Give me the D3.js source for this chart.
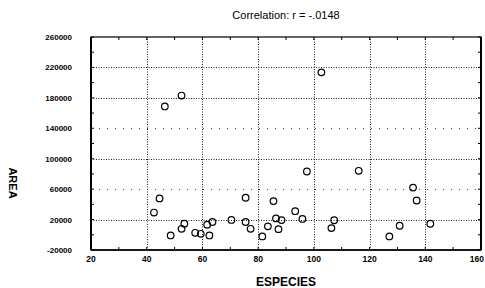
<!DOCTYPE html>
<html>
<head>
<meta charset="utf-8">
<script src="https://cdn.jsdelivr.net/npm/d3@7"></script>
<style>
  html, body { margin: 0; padding: 0; background: #fff; }
  svg { display: block; font-family: Arial, "Liberation Sans", sans-serif; }
</style>
</head>
<body>
<div id="chart"></div>
<script>
// ---------- Data ----------
const especies = [52.5, 46.5, 102.7, 44.6, 42.6, 48.6, 53.5, 52.5, 57.4, 59.4, 62.5, 61.7, 63.6,
  70.4, 75.5, 75.5, 77.3, 81.5, 83.5, 85.5, 86.4, 88.4, 87.3, 93.3, 95.9, 97.5, 107.3, 106.3,
  116.1, 127.1, 130.8, 135.6, 136.9, 141.8];
const area = [183000, 168700, 213500, 47800, 29200, -900, 14500, 7900, 2600, 1300, -900, 13300, 16800,
  19500, 16800, 48700, 7900, -2200, 11100, 44300, 21500, 19300, 7400, 31000, 20800, 83200, 19100, 8800,
  84100, -2200, 11900, 62000, 45100, 14500];
const xTicks = [20, 40, 60, 80, 100, 120, 140, 160];
const yTicks = [-20000, 20000, 60000, 100000, 140000, 180000, 220000, 260000];
const titleText = 'Correlation: r = -.0148';

const W = 485, H = 288;
const svg = d3.select('#chart').append('svg').attr('width', W).attr('height', H);

const x = d3.scaleLinear().domain([20, 160]).range([91, 481]);
const y = d3.scaleLinear().domain([-20000, 260000]).range([250, 37]);

// gridlines
const sparse = new Set([140000, 60000]);
svg.append('g').selectAll('line').data(yTicks.slice(1, -1)).join('line')
  .attr('x1', x(20)).attr('x2', x(160))
  .attr('y1', d => Math.round(y(d)) + 0.5).attr('y2', d => Math.round(y(d)) + 0.5)
  .attr('stroke', d => sparse.has(d) ? '#444' : '#222').attr('stroke-width', 1)
  .attr('stroke-dasharray', d => sparse.has(d) ? '1,7' : '1,1.5');

svg.append('g').selectAll('line').data(xTicks.slice(1, -1)).join('line')
  .attr('y1', y(-20000)).attr('y2', y(260000))
  .attr('x1', d => Math.round(x(d)) + 0.5).attr('x2', d => Math.round(x(d)) + 0.5)
  .attr('stroke', '#222').attr('stroke-width', 1).attr('stroke-dasharray', '1,1.5');

// frame
svg.append('rect')
  .attr('x', x(20)).attr('y', y(260000))
  .attr('width', x(160) - x(20)).attr('height', y(-20000) - y(260000))
  .attr('fill', 'none').attr('stroke', '#000').attr('stroke-width', 1.2);
// heavier left / right / bottom edges
svg.append('line').attr('x1', x(20)).attr('x2', x(20)).attr('y1', y(260000)).attr('y2', y(-20000))
  .attr('stroke', '#000').attr('stroke-width', 2);
svg.append('line').attr('x1', x(160)).attr('x2', x(160)).attr('y1', y(260000)).attr('y2', y(-20000))
  .attr('stroke', '#000').attr('stroke-width', 2);
svg.append('line').attr('x1', x(20)).attr('x2', x(160)).attr('y1', y(-20000)).attr('y2', y(-20000))
  .attr('stroke', '#000').attr('stroke-width', 1.6);

// inner minor ticks
const yMinor = d3.range(-20000, 260001, 20000);
const tickG = svg.append('g').attr('stroke', '#000').attr('stroke-width', 1);
tickG.selectAll('line.l').data(yMinor).join('line').attr('class', 'l')
  .attr('x1', x(20)).attr('x2', x(20) + 3).attr('y1', d => y(d)).attr('y2', d => y(d));
tickG.selectAll('line.r').data(yMinor).join('line').attr('class', 'r')
  .attr('x1', x(160) - 3).attr('x2', x(160)).attr('y1', d => y(d)).attr('y2', d => y(d));
const xMinor = d3.range(20, 161, 10);
tickG.selectAll('line.b').data(xMinor).join('line').attr('class', 'b')
  .attr('x1', d => x(d)).attr('x2', d => x(d)).attr('y1', y(-20000) - 3).attr('y2', y(-20000));
tickG.selectAll('line.t').data(xMinor).join('line').attr('class', 't')
  .attr('x1', d => x(d)).attr('x2', d => x(d)).attr('y1', y(260000)).attr('y2', y(260000) + 3);

// tick labels
svg.append('g').selectAll('text').data(yTicks).join('text')
  .attr('x', 72).attr('y', d => y(d) + 3)
  .attr('text-anchor', 'end').attr('font-size', 8).attr('font-weight', 'bold')
  .text(d => d);
svg.append('g').selectAll('text').data(xTicks).join('text')
  .attr('x', d => d === 160 ? W - 1 : x(d)).attr('y', 262)
  .attr('text-anchor', d => d === 160 ? 'end' : 'middle')
  .attr('font-size', 8.5).attr('font-weight', 'bold')
  .text(d => d);

// points
svg.append('g').selectAll('circle').data(especies).join('circle')
  .attr('cx', d => x(d)).attr('cy', (d, i) => y(area[i]))
  .attr('r', 3.3).attr('fill', 'none').attr('stroke', '#000').attr('stroke-width', 1.2);

// titles
svg.append('text').attr('x', 286).attr('y', 19).attr('text-anchor', 'middle')
  .attr('font-size', 11).text(titleText);
svg.append('text').attr('x', 286).attr('y', 286).attr('text-anchor', 'middle')
  .attr('font-size', 12).attr('font-weight', 'bold').text('ESPECIES');
svg.append('text').attr('transform', 'translate(9,183) rotate(90)').attr('text-anchor', 'middle')
  .attr('font-size', 11).attr('font-weight', 'bold').text('AREA');
</script>
</body>
</html>
